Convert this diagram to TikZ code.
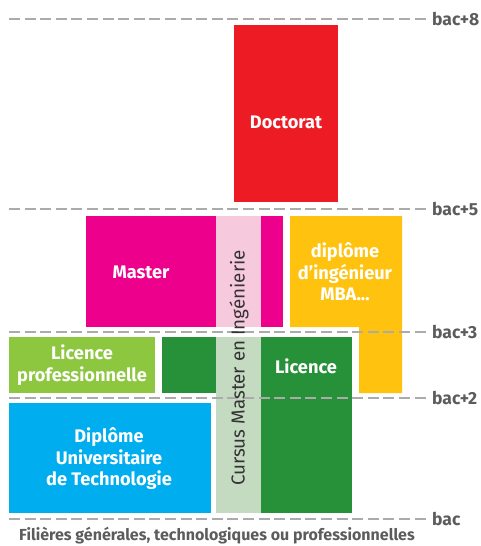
\documentclass[tikz,border=0pt]{standalone}
\usepackage{fontspec}
\setmainfont{Fira Sans}
\definecolor{cred}{HTML}{ED1C24}
\definecolor{cmag}{HTML}{EC008C}
\definecolor{cpink}{HTML}{F7C9DC}
\definecolor{cyel}{HTML}{FFC20E}
\definecolor{clgreen}{HTML}{8DC63F}
\definecolor{cdgreen}{HTML}{27913A}
\definecolor{cpgreen}{HTML}{C4DBC1}
\definecolor{cblue}{HTML}{00AEEF}
\definecolor{ctext}{HTML}{5C5C5C}
\definecolor{cdash}{HTML}{ABABAB}
\begin{document}
\begin{tikzpicture}[x=1pt,y=-1pt,
  box/.style={draw=none,inner sep=0pt,anchor=north west},
  lbl/.style={text=white,font=\bfseries\fontsize{18.2}{21.5}\selectfont,align=center,inner sep=0pt},
  level/.style={cdash,line width=1.3pt,dash pattern=on 11pt off 4.6pt},
  bac/.style={text=ctext,font=\bfseries\fontsize{17.5}{20}\selectfont,anchor=west,inner sep=0pt}]
\useasboundingbox (0,0) rectangle (481,546);
% boxes
\node[box,fill=cred,minimum width=104pt,minimum height=177pt] (doc) at (234,25) {};
\node[box,fill=cmag,minimum width=197pt,minimum height=111pt] (mas) at (86,216) {};
\node[box,fill=cpink,minimum width=45pt,minimum height=111pt] (pink) at (216,216) {};
\fill[cyel] (290,216) -- (402,216) -- (402,393) -- (359,393) -- (359,327) -- (290,327) -- cycle;
\coordinate (ing) at (345,272);
\node[box,fill=clgreen,minimum width=146pt,minimum height=56pt] (lpro) at (9,337) {};
\node[box,fill=cdgreen,minimum width=54pt,minimum height=56pt] (licl) at (162,337) {};
\node[box,fill=cpgreen,minimum width=45pt,minimum height=176pt] (cmi) at (216,337) {};
\node[box,fill=cdgreen,minimum width=91pt,minimum height=176pt] (lic) at (261,337) {};
\node[box,fill=cblue,minimum width=202pt,minimum height=110pt] (dut) at (9,403) {};
% levels
\foreach \y/\t [count=\i] in {19/bac+8,209/bac+5,332/bac+3,398/bac+2,519/bac}{
  \coordinate (l\i a) at (9,\y);
  \coordinate (l\i b) at (426,\y);
  \draw[level] (l\i a) -- (l\i b);
  \node[bac] (t\i) at (432,\y) {\t};
}
% labels
\node[lbl] (tdoc) at (286,122) {Doctorat};
\node[lbl] (tmas) at (141,272) {Master};
\node[lbl] (ting) at (ing) {diplôme\\d'ingénieur\\MBA...};
\node[lbl] (tlpro) at (82,365) {Licence\\professionnelle};
\node[lbl] (tlic) at (306,366) {Licence};
\node[lbl] (tdut) at (109,459) {Diplôme\\Universitaire\\de Technologie};
\node[rotate=90,text=black!80,font=\fontsize{18.8}{20}\selectfont,inner sep=0pt] (tcmi) at (239,368) {Cursus Master en Ingénierie};
\node[text=ctext,font=\bfseries\fontsize{16}{18}\selectfont,inner sep=0pt] (tfil) at (217,536) {Filières générales, technologiques ou professionnelles};
\end{tikzpicture}
\end{document}
